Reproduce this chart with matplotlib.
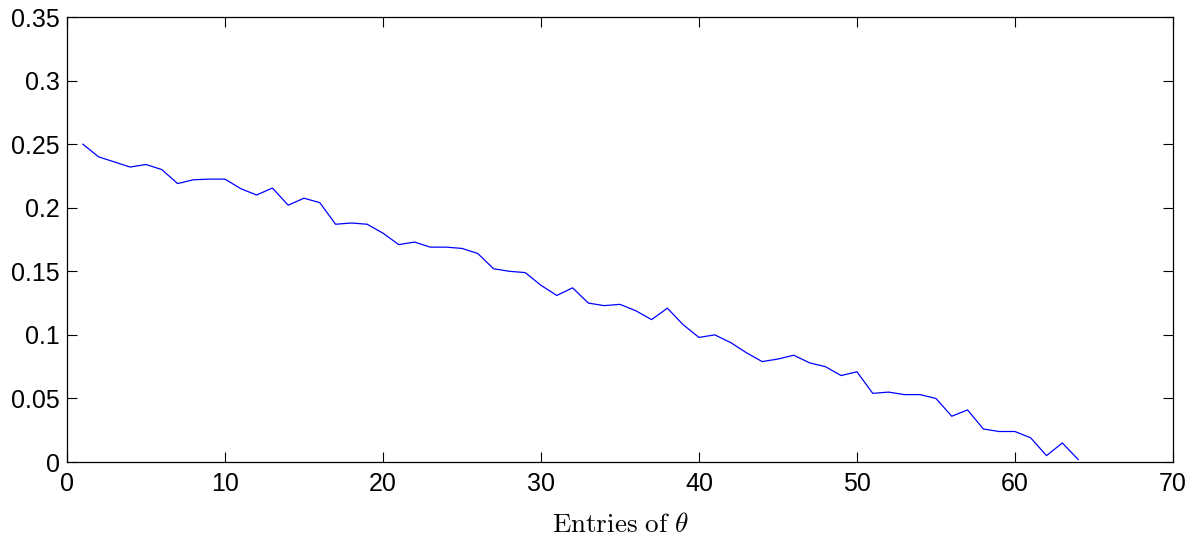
import matplotlib
matplotlib.use("Agg")
import matplotlib.pyplot as plt

plt.rcParams["font.family"] = ["Liberation Sans", "DejaVu Sans"]
plt.rcParams["mathtext.fontset"] = "cm"

# データ
entries = list(range(1, 65))
values = [
    0.250, 0.240, 0.236, 0.232, 0.234, 0.230, 0.219, 0.222, 0.2225, 0.2225,
    0.215, 0.210, 0.2155, 0.202, 0.2075, 0.204, 0.187, 0.188, 0.187, 0.180,
    0.171, 0.173, 0.169, 0.169, 0.168, 0.164, 0.152, 0.150, 0.149, 0.139,
    0.131, 0.137, 0.125, 0.123, 0.124, 0.119, 0.112, 0.121, 0.108, 0.098,
    0.100, 0.094, 0.086, 0.079, 0.081, 0.084, 0.078, 0.075, 0.068, 0.071,
    0.054, 0.055, 0.053, 0.053, 0.050, 0.036, 0.041, 0.026, 0.024, 0.024,
    0.019, 0.005, 0.015, 0.002,
]
x_ticks = [0, 10, 20, 30, 40, 50, 60, 70]
y_ticks = [0, 0.05, 0.1, 0.15, 0.2, 0.25, 0.3, 0.35]
y_tick_labels = ["0", "0.05", "0.1", "0.15", "0.2", "0.25", "0.3", "0.35"]

fig = plt.figure(figsize=(12.03, 5.4), dpi=100)
ax = fig.add_axes([0.0557, 0.1444, 0.9193, 0.8241])

ax.plot(entries, values, color="#0000ff", linewidth=0.9)

ax.set_xlim(0, 70)
ax.set_ylim(0, 0.35)
ax.set_xticks(x_ticks)
ax.set_yticks(y_ticks)
ax.set_yticklabels(y_tick_labels)
ax.tick_params(direction="in", top=True, right=True, length=7, width=0.8,
               labelsize=18)
ax.tick_params(axis="x", pad=7.5)
ax.tick_params(axis="y", pad=5)
for s in ax.spines.values():
    s.set_linewidth(0.9)

ax.set_xlabel(r"$\mathrm{Entries\ of}\ \theta$", fontsize=19.5, labelpad=11.5)

fig.savefig("out.png", dpi=100)
